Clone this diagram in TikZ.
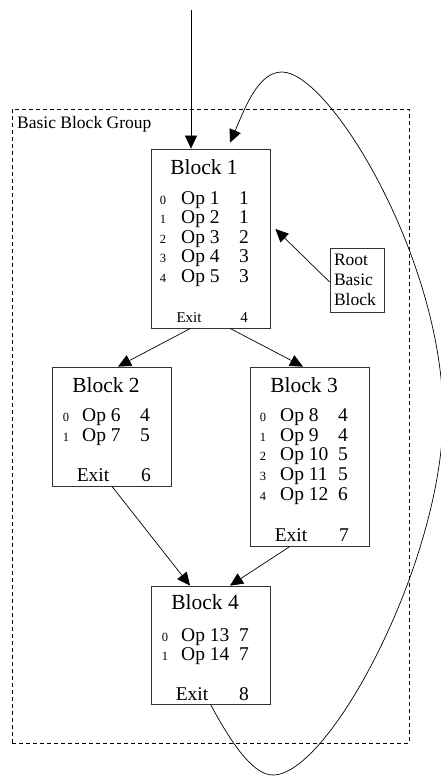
\documentclass[tikz,border=0pt]{standalone}
\usepackage{fontspec}
\setmainfont{Liberation Serif}
\usetikzlibrary{arrows.meta}
\begin{document}
\begin{tikzpicture}[x=1pt,y=-1pt,
  blockbox/.style={draw=black!80, line width=0.8pt, minimum width=119pt, inner sep=0pt},
  grp/.style={draw, dash pattern=on 4pt off 3pt, line width=0.7pt},
  flow/.style={line width=0.7pt, -{Triangle[length=13pt,width=12pt]}},
  ttl/.style={font=\fontsize{21.5}{25}\selectfont, anchor=base, inner sep=0pt},
  opt/.style={font=\fontsize{19.5}{23}\selectfont, anchor=base west, inner sep=0pt},
  num/.style={font=\fontsize{19.5}{23}\selectfont, anchor=base, inner sep=0pt},
  idx/.style={font=\fontsize{12.5}{15}\selectfont, anchor=base, inner sep=0pt},
  smallexit/.style={font=\fontsize{15}{18}\selectfont, anchor=base, inner sep=0pt},
  lbl/.style={font=\fontsize{17.5}{20}\selectfont, inner sep=0pt}
]
\useasboundingbox (0,0) rectangle (440,776);

% group
\node[grp, minimum width=397pt, minimum height=634pt, inner sep=0pt] (grp) at (210.5,426) {};
\node[lbl, anchor=base west] (grplbl) at (17,128) {Basic Block Group};

% blocks
\node[blockbox, minimum height=179pt] (b1) at (210.5,238.5) {};
\node[blockbox, minimum height=119pt] (b2) at (111.5,426.5) {};
\node[blockbox, minimum height=179pt] (b3) at (309.5,456.5) {};
\node[blockbox, minimum height=118pt] (b4) at (210.5,645) {};

% root basic block
\node[draw=black!80, line width=0.7pt, minimum width=54pt, minimum height=64pt, inner sep=0pt,
      text width=46pt, align=left, font=\fontsize{17.5}{20}\selectfont] (root) at (357,280) {Root\\Basic\\Block};

% Block 1 contents
\node[ttl] (b1t) at (204,174) {Block 1};
\foreach \op/\n [count=\k from 0] in {1/1,2/1,3/2,4/3,5/3} {
  \pgfmathsetmacro\yy{204.5+19.4*\k}
  \node[idx] (b1i\k) at (163,\yy) {\k};
  \node[opt] (b1o\k) at (181,\yy) {Op \op};
  \node[num] (b1n\k) at (244,\yy) {\n};
}
\node[smallexit] (b1e) at (189,322.5) {Exit};
\node[smallexit] (b1en) at (244,322.5) {4};

% Block 2 contents
\node[ttl] (b2t) at (106,392) {Block 2};
\foreach \op/\n [count=\k from 0] in {6/4,7/5} {
  \pgfmathsetmacro\yy{421.7+19.8*\k}
  \node[idx] (b2i\k) at (66,\yy) {\k};
  \node[opt] (b2o\k) at (82,\yy) {Op \op};
  \node[num] (b2n\k) at (145,\yy) {\n};
}
\node[num] (b2e) at (93,481) {Exit};
\node[num] (b2en) at (146,481) {6};

% Block 3 contents
\node[ttl] (b3t) at (304,392) {Block 3};
\foreach \op/\n [count=\k from 0] in {8/4,9/4,10/5,11/5,12/6} {
  \pgfmathsetmacro\yy{421.7+19.6*\k}
  \node[idx] (b3i\k) at (263,\yy) {\k};
  \node[opt] (b3o\k) at (280,\yy) {Op \op};
  \node[num] (b3n\k) at (343,\yy) {\n};
}
\node[num] (b3e) at (291,541) {Exit};
\node[num] (b3en) at (344,541) {7};

% Block 4 contents
\node[ttl] (b4t) at (205,609) {Block 4};
\foreach \op/\n [count=\k from 0] in {13/7,14/7} {
  \pgfmathsetmacro\yy{641.5+19*\k}
  \node[idx] (b4i\k) at (165,\yy) {\k};
  \node[opt] (b4o\k) at (181,\yy) {Op \op};
  \node[num] (b4n\k) at (244,\yy) {\n};
}
\node[num] (b4e) at (192,700) {Exit};
\node[num] (b4en) at (244,700) {8};

% connectors
\coordinate (entry) at (191,10);
\draw[flow] (entry) -- (entry |- b1.north);
\draw[flow] ([xshift=-20pt]b1.south) -- ([xshift=6.5pt]b2.north);
\draw[flow] ([xshift=19.5pt]b1.south) -- ([xshift=-6.5pt]b3.north);
\draw[flow] ([xshift=0.5pt]b2.south) -- ([xshift=-20.5pt]b4.north);
\draw[flow] ([xshift=-19.5pt]b3.south) -- ([xshift=19.5pt]b4.north);
\coordinate (roottip) at ([xshift=5pt,yshift=9.5pt]b1.east);
\draw[flow] ([yshift=-2pt]root.west) -- (roottip);
\coordinate (backtip) at ([xshift=19.5pt,yshift=6pt]b1.north);
\draw[flow] (b4.south) .. controls (235,750) and (255,775) .. (273,775)
  .. controls (330,775) and (443,560) .. (443,415)
  .. controls (443,260) and (330,72) .. (282,72)
  .. controls (258,72) and (245,108) .. (backtip);
\end{tikzpicture}
\end{document}
